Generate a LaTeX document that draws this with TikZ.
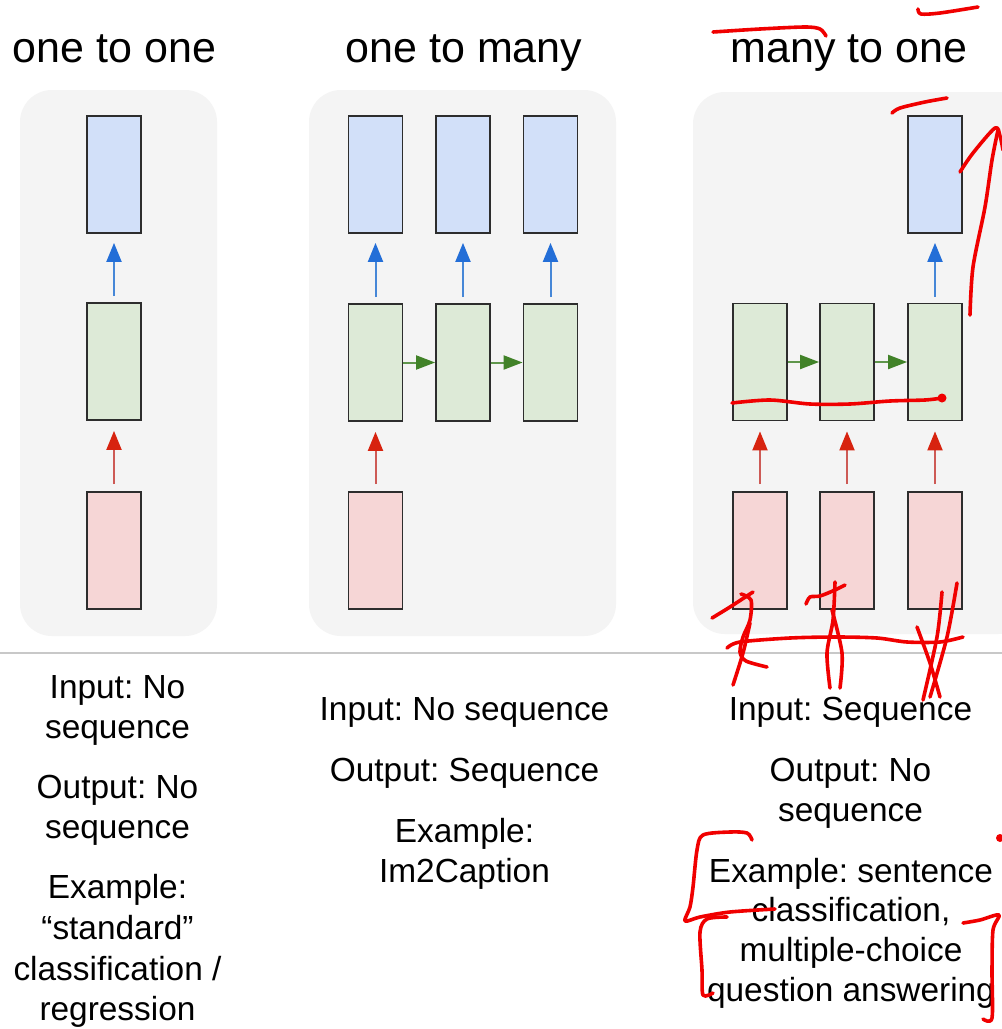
\documentclass[tikz,border=0pt]{standalone}
\usepackage{fontspec}
\setmainfont{Liberation Sans}
\usetikzlibrary{arrows.meta}
\frenchspacing
\definecolor{panelbg}{RGB}{244,244,244}
\definecolor{cellborder}{RGB}{45,45,45}
\definecolor{outblue}{RGB}{210,224,249}
\definecolor{hidgreen}{RGB}{221,234,215}
\definecolor{inpink}{RGB}{246,214,214}
\definecolor{blueline}{RGB}{70,135,215}
\definecolor{bluehead}{RGB}{35,110,215}
\definecolor{redline}{RGB}{205,90,85}
\definecolor{redhead}{RGB}{215,35,15}
\definecolor{greenline}{RGB}{95,150,75}
\definecolor{greenhead}{RGB}{65,130,40}
\definecolor{rulegray}{RGB}{200,200,200}
\definecolor{inkred}{RGB}{240,0,0}
\tikzset{
  panel/.style={fill=panelbg, draw=none, rounded corners=32pt},
  cell/.style={draw=cellborder, line width=1.8pt, minimum width=54pt, minimum height=117pt, inner sep=0pt},
  outcell/.style={cell, fill=outblue},
  hidcell/.style={cell, fill=hidgreen},
  incell/.style={cell, fill=inpink},
  bluearrow/.style={line width=2pt, draw=blueline, -{Triangle[length=19pt,width=15pt,color=bluehead]}, shorten <=6pt, shorten >=9pt},
  redarrow/.style={line width=2pt, draw=redline, -{Triangle[length=19pt,width=15pt,color=redhead]}, shorten <=7pt, shorten >=10pt},
  greenarrow/.style={line width=2pt, draw=greenline, -{Triangle[length=19pt,width=14pt,color=greenhead]}},
  title/.style={font=\fontsize{43}{50}\selectfont, anchor=base, inner sep=0pt},
  body/.style={font=\fontsize{33.4}{40}\selectfont, anchor=base, inner sep=0pt},
  ink/.style={draw=inkred, line width=3.6pt, line cap=round, line join=round},
}
\begin{document}
\begin{tikzpicture}[x=1pt,y=-1pt]
\useasboundingbox (0,0) rectangle (1002,1029);
\fill[white] (0,0) rectangle (1002,1029);

% panels
\fill[panel] (20,90) rectangle (217,636);
\fill[panel] (309,90) rectangle (616,636);
\fill[panel] (693,92) rectangle (1030,634);

% separator rule
\draw[rulegray, line width=1.5pt] (0,653) -- (1002,653);

% titles
\node[title] (t1) at (114.5,62) {one to one};
\node[title] (t2) at (464,62) {one to many};
\node[title] (t3) at (849,62) {many to one};

% column 1
\node[outcell] (b1) at (114,174.5) {};
\node[hidcell] (g1) at (114,361.5) {};
\node[incell]  (p1) at (114,550.5) {};
\draw[bluearrow] (g1) -- (b1);
\draw[redarrow] (p1) -- (g1);

% column 2
\node[outcell] (b2a) at (375.5,174.5) {};
\node[outcell] (b2b) at (463,174.5) {};
\node[outcell] (b2c) at (550.5,174.5) {};
\node[hidcell] (g2a) at (375.5,362.5) {};
\node[hidcell] (g2b) at (463,362.5) {};
\node[hidcell] (g2c) at (550.5,362.5) {};
\node[incell]  (p2a) at (375.5,550.5) {};
\draw[bluearrow] (g2a) -- (b2a);
\draw[bluearrow] (g2b) -- (b2b);
\draw[bluearrow] (g2c) -- (b2c);
\draw[greenarrow] (g2a) -- (g2b);
\draw[greenarrow] (g2b) -- (g2c);
\draw[redarrow] (p2a) -- (g2a);

% column 3
\node[outcell] (b3) at (935,174.5) {};
\node[hidcell] (g3a) at (760,362) {};
\node[hidcell] (g3b) at (847,362) {};
\node[hidcell] (g3c) at (935,362) {};
\node[incell]  (p3a) at (760,550.5) {};
\node[incell]  (p3b) at (847,550.5) {};
\node[incell]  (p3c) at (935,550.5) {};
\draw[bluearrow] (g3c) -- (b3);
\draw[greenarrow] (g3a) -- (g3b);
\draw[greenarrow] (g3b) -- (g3c);
\draw[redarrow] (p3a) -- (g3a);
\draw[redarrow] (p3b) -- (g3b);
\draw[redarrow] (p3c) -- (g3c);

% texts column 1
\node[body] (c1a) at (117.5,698) {Input: No};
\node[body] (c1b) at (117.5,738) {sequence};
\node[body] (c1c) at (117.5,798) {Output: No};
\node[body] (c1d) at (117.5,838) {sequence};
\node[body] (c1e) at (117.5,898) {Example:};
\node[body] (c1f) at (117.5,939) {“standard”};
\node[body] (c1g) at (117.5,980) {classification /};
\node[body] (c1h) at (117.5,1020) {regression};

% texts column 2
\node[body] (c2a) at (464.5,720) {Input: No sequence};
\node[body] (c2b) at (464.5,781) {Output: Sequence};
\node[body] (c2c) at (464.5,842) {Example:};
\node[body] (c2d) at (464.5,882) {Im2Caption};

% texts column 3
\node[body] (c3a) at (850.5,720) {Input: Sequence};
\node[body] (c3b) at (850.5,781) {Output: No};
\node[body] (c3c) at (850.5,821) {sequence};
\node[body] (c3d) at (851,882) {Example: sentence};
\node[body] (c3e) at (851,921) {classification,};
\node[body] (c3f) at (851,961) {multiple-choice};
\node[body] (c3g) at (851,1001) {question answering};

% red hand-drawn ink
\draw[ink] plot[smooth] coordinates {(713,32) (760,29) (805,27) (820,29) (826,36)};
\draw[ink] plot[smooth] coordinates {(918,9) (921,14) (940,13) (978,7)};
\draw[ink] plot[smooth] coordinates {(892,113) (900,108) (925,102) (947,98)};
\draw[ink] plot[smooth] coordinates {(970,315) (973,267) (985,207) (992,160) (998,130)};
\draw[ink] plot[smooth] coordinates {(960,172) (973,153) (995,128) (1000,136) (1003,150)};
\draw[ink] plot[smooth] coordinates {(732,403) (770,400) (810,404) (850,404) (890,401) (925,400) (942,398)};
\fill[inkred] (942,398) circle (4.5);
% bottom scribbles
\draw[ink] plot[smooth] coordinates {(727,648) (740,642) (790,638) (837,637) (877,638) (907,642) (940,642) (963,637)};
\draw[ink] plot[smooth] coordinates {(712,618) (730,607) (753,592)};
\draw[ink] plot[smooth] coordinates {(741,594) (751,600) (750,620) (743,637) (740,652) (746,661) (767,667)};
\draw[ink] plot[smooth] coordinates {(750,623) (743,653) (733,685)};
\draw[ink] plot[smooth] coordinates {(806,604) (810,597) (820,596) (835,590) (845,585)};
\draw[ink] plot[smooth] coordinates {(835,582) (833,620) (827,653) (830,688)};
\draw[ink] plot[smooth] coordinates {(832,610) (842,653) (840,688)};
\draw[ink] plot[smooth] coordinates {(942,592) (937,637) (923,700)};
\draw[ink] plot[smooth] coordinates {(957,583) (947,637) (930,697)};
\draw[ink] plot[smooth] coordinates {(917,627) (930,663) (940,697)};
% brackets around example text
\draw[ink] plot[smooth] coordinates {(752,840) (747,833) (730,832) (703,835) (697,850) (693,887) (690,907) (685,921) (700,917) (730,912) (775,909)};
\draw[ink] plot[smooth] coordinates {(727,917) (707,919) (700,932) (702,970) (703,995) (713,993)};
\draw[ink] plot[smooth] coordinates {(963,923) (980,920) (999,915) (993,930) (992,970) (992,1018) (983,1019)};
\fill[inkred] (1000,838) circle (4);
\end{tikzpicture}
\end{document}
